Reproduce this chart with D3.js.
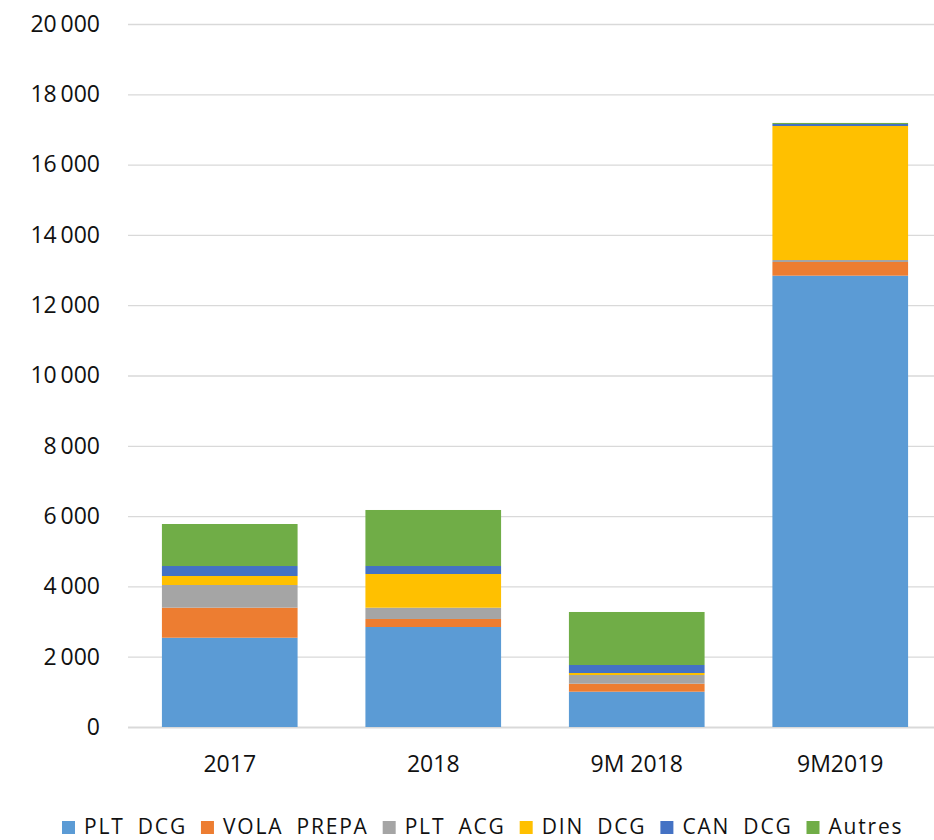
<!DOCTYPE html>
<html>
<head>
<meta charset="utf-8">
<script src="https://cdn.jsdelivr.net/npm/d3@7"></script>
<style>
	body { margin: 0; background: #ffffff; }
	svg { display: block; }
	text { font-family: 'Open Sans', sans-serif; fill: #111111; }
</style>
</head>
<body>
<svg id="chart"></svg>
<script>
// ========== DATA ==========
var periods = ['2017', '2018', '9M 2018', '9M2019'];
var seriesNames = ['PLT DCG', 'VOLA PREPA', 'PLT ACG', 'DIN DCG', 'CAN DCG', 'Autres'];
var pltDcg    = [2540, 2845, 1005, 12840];
var volaPrepa = [855, 228, 227, 389];
var pltAcg    = [645, 321, 247, 57];
var dinDcg    = [256, 959, 57, 3812];
var canDcg    = [284, 227, 228, 57];
var autres    = [1195, 1594, 1508, 30];
var yTicks = [0, 2000, 4000, 6000, 8000, 10000, 12000, 14000, 16000, 18000, 20000];

var colors = ['#5b9bd5', '#ed7d31', '#a5a5a5', '#ffc000', '#4472c4', '#70ad47'];

makeChart();

function makeChart() {
	// ========== SIZES ==========
	var width = 934;
	var height = 840;
	var plotLeft = 128;
	var plotRight = 942;   // plot runs past the window edge, like the original crop
	var plotTop = 24;
	var plotBottom = 727;

	var svg = d3.select('svg#chart')
		.attr('width', width)
		.attr('height', height);

	// build rows for the stack
	var allSeries = [pltDcg, volaPrepa, pltAcg, dinDcg, canDcg, autres];
	var rows = periods.map(function(p, i) {
		var row = { period: p };
		seriesNames.forEach(function(s, j) { row[s] = allSeries[j][i]; });
		return row;
	});
	var stacked = d3.stack().keys(seriesNames)(rows);

	// ========== SCALES ==========
	var x = d3.scaleBand()
		.domain(periods)
		.range([plotLeft, plotRight])
		.paddingInner(1 / 3)
		.paddingOuter(1 / 6);
	var y = d3.scaleLinear()
		.domain([0, 20000])
		.range([plotBottom, plotTop]);

	var fmt = function(v) {
		// thin space as thousands separator
		return d3.format(',')(v).replace(/,/g, '\u2009');
	};

	// ========== GRID + Y AXIS ==========
	var yAxis = svg.append('g')
		.attr('class', 'y-axis')
		.attr('transform', 'translate(' + plotLeft + ',0)')
		.call(d3.axisLeft(y)
			.tickValues(yTicks)
			.tickSize(-(plotRight - plotLeft))
			.tickPadding(28)
			.tickFormat(fmt));
	yAxis.select('.domain').remove();
	yAxis.selectAll('.tick line')
		.attr('stroke', '#d9d9d9')
		.attr('stroke-width', function(d) { return d === 0 ? 2 : 1.3; });
	yAxis.selectAll('.tick text')
		.style('font-size', '23px')
		.style('fill', '#111111');

	// ========== BARS ==========
	svg.append('g').selectAll('g')
		.data(stacked)
		.enter().append('g')
			.attr('fill', function(d, i) { return colors[i]; })
		.selectAll('rect')
		.data(function(d) { return d; })
		.enter().append('rect')
			.attr('x', function(d) { return x(d.data.period); })
			.attr('y', function(d) { return y(d[1]); })
			.attr('width', x.bandwidth())
			.attr('height', function(d) { return y(d[0]) - y(d[1]); });

	// ========== X LABELS ==========
	svg.append('g').selectAll('text')
		.data(periods)
		.enter().append('text')
			.attr('x', function(d) { return x(d) + x.bandwidth() / 2; })
			.attr('y', 772)
			.attr('text-anchor', 'middle')
			.style('font-size', '23px')
			.text(function(d) { return d; });

	// ========== LEGEND ==========
	var legend = svg.append('g').attr('class', 'legend');
	var lx = 62;
	var box = 13;
	seriesNames.forEach(function(name, i) {
		legend.append('rect')
			.attr('x', lx)
			.attr('y', 821)
			.attr('width', box)
			.attr('height', box)
			.attr('fill', colors[i]);
		var t = legend.append('text')
			.attr('x', lx + box + 9)
			.attr('y', 834)
			.style('font-size', '21px')
			.style('letter-spacing', '1.8px')
			.style('word-spacing', '6px')
			.text(name);
		lx = lx + box + 9 + t.node().getComputedTextLength() + 14;
	});
}
</script>
</body>
</html>
